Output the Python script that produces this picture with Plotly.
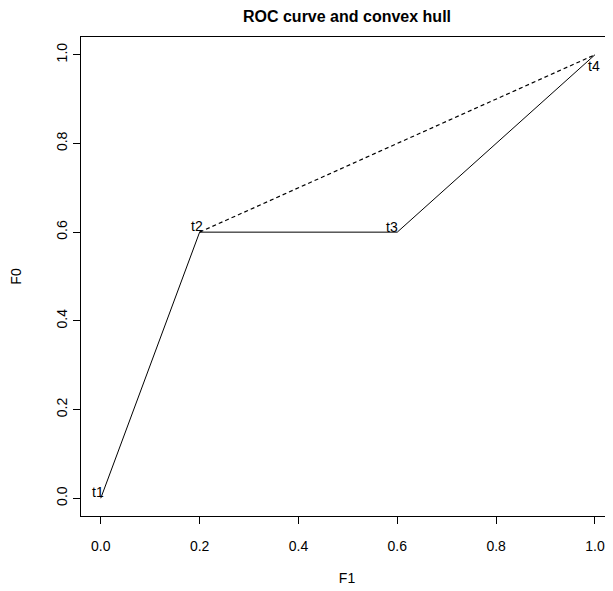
import plotly.graph_objects as go

# ROC points
roc_f1 = [0.0, 0.2, 0.6, 1.0]
roc_f0 = [0.0, 0.6, 0.6, 1.0]
labels = ["t1", "t2", "t3", "t4"]
# convex hull (dashed part)
hull_f1 = [0.2, 1.0]
hull_f0 = [0.6, 1.0]

x_ticks = [0.0, 0.2, 0.4, 0.6, 0.8, 1.0]
y_ticks = [0.0, 0.2, 0.4, 0.6, 0.8, 1.0]

# label pixel offsets (style only)
label_dx = [-3, -3, -5, -1]
label_dy = [6, 6, 5, -11]

FONT = "Liberation Sans, Arial, sans-serif"

# page has an 8px body margin: figure drawn at (8, 8)
W, H = 605, 583

fig = go.Figure()
fig.add_trace(go.Scatter(x=roc_f1, y=roc_f0, mode="lines",
                         line=dict(color="black", width=1), showlegend=False,
                         hoverinfo="skip"))
fig.add_trace(go.Scatter(x=hull_f1, y=hull_f0, mode="lines",
                         line=dict(color="black", width=1.2, dash="4px,3px"),
                         showlegend=False, hoverinfo="skip"))

for xv, yv, lab, dx, dy in zip(roc_f1, roc_f0, labels, label_dx, label_dy):
    fig.add_annotation(x=xv, y=yv, text=lab, showarrow=False,
                       xshift=dx, yshift=dy,
                       font=dict(family=FONT, size=14, color="black"))

fig.update_layout(
    width=W, height=H,
    margin=dict(l=73, r=0, t=29, b=75),
    plot_bgcolor="white", paper_bgcolor="white",
    title=dict(text="<b>ROC curve and convex hull</b>", x=(339 / W), xanchor="center",
               y=1 - 8 / H, yanchor="middle",
               font=dict(family=FONT, size=16, color="black")),
    font=dict(family=FONT, size=14, color="black"),
)
fig.update_xaxes(range=[-0.04, 1.0365], tickvals=x_ticks,
                 ticktext=[f"{v:.1f}" for v in x_ticks],
                 showgrid=False, zeroline=False,
                 showline=True, linecolor="black", linewidth=1.2, mirror=True,
                 ticks="outside", ticklen=7, tickcolor="black", tickwidth=1,
                 ticklabelstandoff=10,
                 title=dict(text="F1", standoff=20,
                            font=dict(family=FONT, size=14)),
                 tickfont=dict(family=FONT, size=14))
fig.update_yaxes(range=[-0.04, 1.04], tickvals=y_ticks,
                 ticktext=[f"{v:.1f}" for v in y_ticks],
                 tickangle=-90,
                 showgrid=False, zeroline=False,
                 showline=True, linecolor="black", linewidth=1.2, mirror=False,
                 ticks="outside", ticklen=7, tickcolor="black", tickwidth=1,
                 title=dict(text="F0", standoff=36,
                            font=dict(family=FONT, size=14)),
                 tickfont=dict(family=FONT, size=14))

fig.write_html("out.html")
